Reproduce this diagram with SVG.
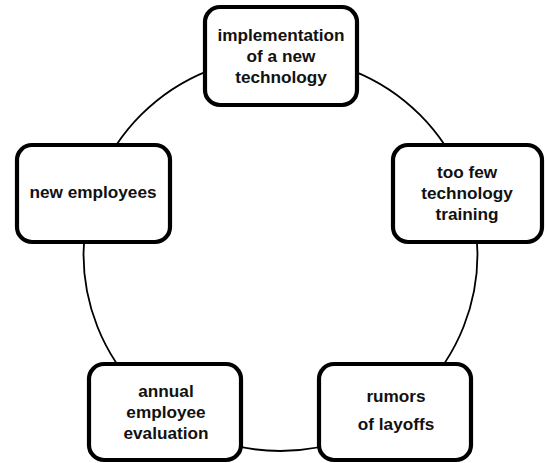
<svg xmlns="http://www.w3.org/2000/svg" width="547" height="463" viewBox="0 0 547 463">
<style>
.box{fill:#fff;stroke:#000;stroke-width:4.2}
.lbl{font-family:"Liberation Sans",Arial,sans-serif;font-weight:bold;font-size:17.2px;fill:#111;text-anchor:middle}
.conn{fill:none;stroke:#000;stroke-width:1.8}
</style>
<rect width="547" height="463" fill="#fff"/>
<g id="connectors">
<circle class="conn" cx="280.5" cy="254" r="197"/>
</g>
<g id="node-implementation">
<rect class="box" x="205" y="7" width="152" height="98" rx="15"/>
<text class="lbl" x="281" y="41">implementation</text>
<text class="lbl" x="281" y="62">of a new</text>
<text class="lbl" x="281" y="83">technology</text>
</g>
<g id="node-training">
<rect class="box" x="393" y="145" width="149" height="97" rx="15"/>
<text class="lbl" x="467" y="178">too few</text>
<text class="lbl" x="467" y="199">technology</text>
<text class="lbl" x="467" y="220">training</text>
</g>
<g id="node-new-employees">
<rect class="box" x="17" y="145" width="153" height="97" rx="15"/>
<text class="lbl" x="93" y="198">new employees</text>
</g>
<g id="node-evaluation">
<rect class="box" x="89" y="364" width="152" height="96" rx="15"/>
<text class="lbl" x="166" y="397">annual</text>
<text class="lbl" x="166" y="418">employee</text>
<text class="lbl" x="166" y="439">evaluation</text>
</g>
<g id="node-rumors">
<rect class="box" x="319" y="364" width="152" height="96" rx="15"/>
<text class="lbl" x="396" y="402">rumors</text>
<text class="lbl" x="396" y="430">of layoffs</text>
</g>
</svg>
